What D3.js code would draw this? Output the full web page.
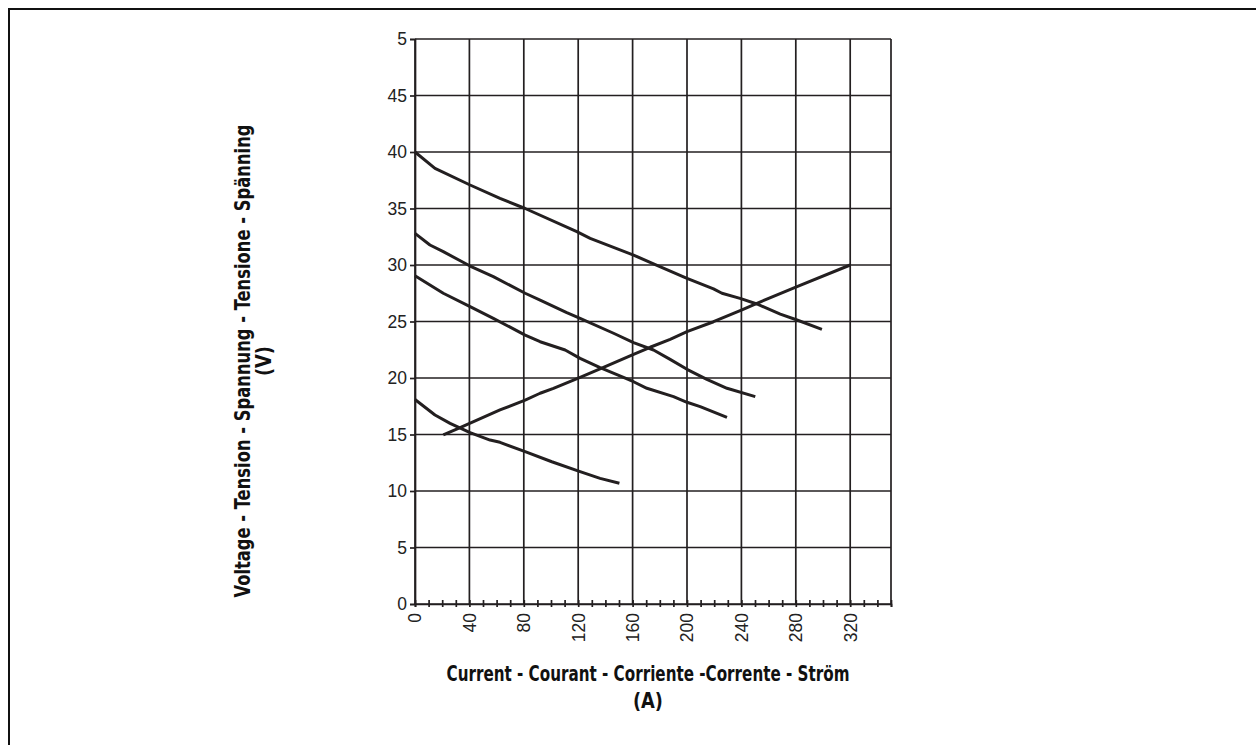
<!DOCTYPE html>
<html><head><meta charset="utf-8">
<script src="https://cdn.jsdelivr.net/npm/d3@7"></script>
<style>
html,body{margin:0;padding:0;background:#fff;overflow:hidden}
svg{display:block}
</style></head>
<body>
<svg id="chart" width="1256" height="745"></svg>
<script>
// ---- data ----
const xTickValues = [0, 40, 80, 120, 160, 200, 240, 280, 320];
const xTickLabels = ["0", "40", "80", "120", "160", "200", "240", "280", "320"];
const xMinorTicks = d3.range(0, 351, 10);
const yTickValues = [0, 5, 10, 15, 20, 25, 30, 35, 40, 45, 50];
const yTickLabels = ["0", "5", "10", "15", "20", "25", "30", "35", "40", "45", "5"];
const xTitle = "Current - Courant - Corriente -Corrente - Ström";
const xUnit = "(A)";
const yTitle = "Voltage - Tension - Spannung - Tensione - Spänning";
const yUnit = "(V)";

const curve1 = [[0,40],[14.7,38.55],[40.5,37.08],[62.5,35.9],[81,35.0],[119,32.95],[128.8,32.36],[160.7,30.88],[175.4,30.09],[200,28.82],[219.5,27.88],[225.7,27.5],[239,27.05],[251.4,26.55],[268.6,25.66],[280.9,25.13],[299.2,24.3]];
const curve2 = [[0,32.8],[11,31.77],[20.8,31.18],[40.5,29.91],[57.6,28.97],[81,27.5],[92,26.9],[111.6,25.78],[121.4,25.28],[146,23.96],[160.7,23.13],[175.4,22.48],[187.6,21.65],[200,20.77],[214.6,19.88],[229.4,19.09],[250.2,18.35]];
const curve3 = [[0,29.05],[20.8,27.5],[40.5,26.31],[57.6,25.28],[81,23.8],[92,23.21],[110.4,22.48],[121.4,21.74],[136.1,20.91],[153.3,20.06],[160.7,19.67],[170.5,19.09],[190.1,18.35],[200,17.85],[209.7,17.46],[229.4,16.52]];
const curve4 = [[0,18.1],[14.7,16.73],[25.8,15.99],[40.5,15.16],[55.2,14.51],[62.5,14.31],[81,13.48],[100.6,12.59],[121.4,11.71],[136.1,11.12],[150.3,10.68]];
const curve5 = [[20.8,14.96],[31.9,15.55],[62.5,17.17],[81,18.05],[92,18.65],[101.8,19.09],[121.4,20.06],[138.6,20.95],[160.7,22.1],[172.9,22.72],[187.6,23.42],[200,24.1],[219.5,24.98],[240.4,26.02],[251.4,26.61],[280.9,28.08],[320,30.0]];
const curves = [curve1, curve2, curve3, curve4, curve5];

// ---- layout ----
const svg = d3.select("#chart");
const ink = "#231f20";
const plot = {left: 415, right: 891, top: 39, bottom: 604};
const x = d3.scaleLinear().domain([0, 350]).range([plot.left, plot.right]);
const y = d3.scaleLinear().domain([0, 50]).range([plot.bottom, plot.top]);
const tickFont = "'Liberation Sans', Arial, Helvetica, sans-serif";

// frame
svg.append("rect").attr("x", 9).attr("y", 9).attr("width", 1300).attr("height", 800)
  .attr("fill", "none").attr("stroke", "#111").attr("stroke-width", 2);

// grid
const grid = svg.append("g");
grid.selectAll("line.v").data(xTickValues.concat([350])).join("line")
  .attr("x1", d => x(d)).attr("x2", d => x(d)).attr("y1", y(50)).attr("y2", y(0))
  .attr("stroke", ink).attr("stroke-width", 1.7);
grid.selectAll("line.h").data(yTickValues).join("line")
  .attr("x1", x(0)).attr("x2", x(350)).attr("y1", d => y(d)).attr("y2", d => y(d))
  .attr("stroke", ink).attr("stroke-width", 1.7);

// y axis
const yAxis = d3.axisLeft(y).tickValues(yTickValues).tickSize(5).tickPadding(3)
  .tickFormat((d, i) => yTickLabels[i]);
const gy = svg.append("g").attr("transform", `translate(${plot.left},0)`).call(yAxis);
gy.select(".domain").attr("stroke", ink).attr("stroke-width", 1.7);
gy.selectAll(".tick line").attr("stroke", ink).attr("stroke-width", 1.7);
gy.selectAll(".tick text").attr("font-family", tickFont)
  .attr("font-size", 17.5).attr("fill", "#222");

// x axis minor ticks (crossing)
const xAxis = d3.axisBottom(x).tickValues(xMinorTicks).tickSize(3).tickFormat("");
const gx = svg.append("g").attr("transform", `translate(0,${plot.bottom})`).call(xAxis);
gx.select(".domain").attr("stroke", ink).attr("stroke-width", 1.7);
gx.selectAll(".tick line").attr("y1", -4).attr("stroke", ink).attr("stroke-width", 1.7);

// x labels rotated
svg.append("g").selectAll("text").data(xTickValues).join("text")
  .attr("transform", d => `translate(${x(d)},${plot.bottom + 9}) rotate(-90)`)
  .attr("text-anchor", "end").attr("dy", "0.36em")
  .attr("font-family", tickFont).attr("font-size", 17.5).attr("fill", "#222")
  .text((d, i) => xTickLabels[i]);

// curves
const line = d3.line().x(d => x(d[0])).y(d => y(d[1]));
svg.append("g").selectAll("path").data(curves).join("path")
  .attr("d", line).attr("fill", "none").attr("stroke", ink).attr("stroke-width", 3)
  .attr("stroke-linejoin", "round");

// titles
const titleFont = "'Liberation Sans Narrow', 'DejaVu Sans Condensed', 'Liberation Sans', sans-serif";
svg.append("text").attr("x", 648).attr("y", 681).attr("text-anchor", "middle")
  .attr("font-family", titleFont).attr("font-weight", "bold").attr("font-size", 21.5).attr("fill", "#111")
  .attr("textLength", 403).attr("lengthAdjust", "spacingAndGlyphs").text(xTitle);
svg.append("text").attr("x", 648).attr("y", 708).attr("text-anchor", "middle")
  .attr("font-family", titleFont).attr("font-weight", "bold").attr("font-size", 21.5).attr("fill", "#111")
  .attr("textLength", 30).attr("lengthAdjust", "spacingAndGlyphs").text(xUnit);
svg.append("text").attr("transform", "translate(250,361) rotate(-90)").attr("text-anchor", "middle")
  .attr("font-family", titleFont).attr("font-weight", "bold").attr("font-size", 21.5).attr("fill", "#111")
  .attr("textLength", 473).attr("lengthAdjust", "spacingAndGlyphs").text(yTitle);
svg.append("text").attr("transform", "translate(271,361) rotate(-90)").attr("text-anchor", "middle")
  .attr("font-family", titleFont).attr("font-weight", "bold").attr("font-size", 21.5).attr("fill", "#111")
  .attr("textLength", 30).attr("lengthAdjust", "spacingAndGlyphs").text(yUnit);
</script>
</body></html>
